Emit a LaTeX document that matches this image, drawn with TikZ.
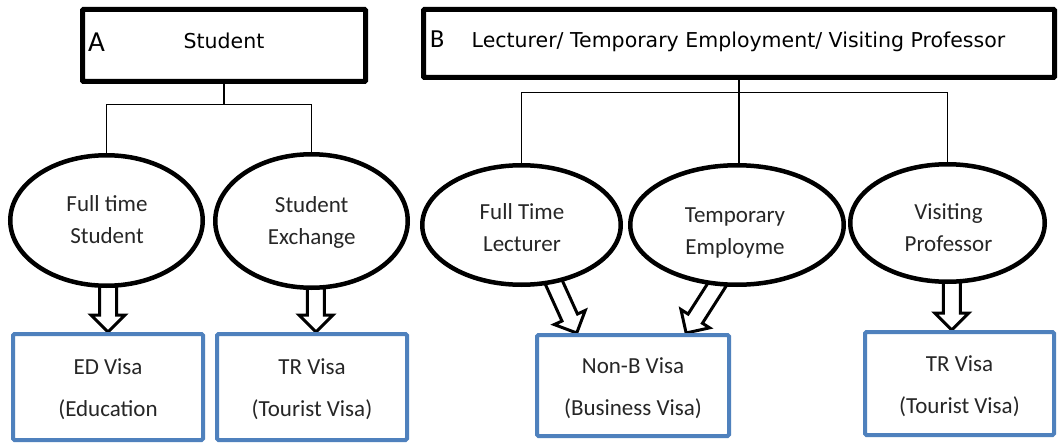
\documentclass[tikz,border=0pt]{standalone}
\usepackage{fontspec}
\setmainfont{Carlito}
\newfontfamily\headfont{DejaVu Sans}
\usetikzlibrary{calc,shapes.geometric}
\pgfdeclarelayer{back}
\pgfdeclarelayer{arrowlayer}
\pgfsetlayers{back,arrowlayer,main}
\definecolor{visablue}{RGB}{79,129,189}
\definecolor{txtgray}{RGB}{38,38,38}
\newcommand{\hollowarrow}[3]{%
  \coordinate (#1b) at ($(#3)!17pt!(#2)$);
  \draw[hollowarr] ($(#2)!8.5pt!90:(#3)$) -- ($(#1b)!8.5pt!90:(#3)$) -- ($(#1b)!17pt!90:(#3)$) -- (#3)
    -- ($(#1b)!17pt!-90:(#3)$) -- ($(#1b)!8.5pt!-90:(#3)$) -- ($(#2)!8.5pt!-90:(#3)$) -- cycle;
}
\newcommand{\vstrut}{\rule{0pt}{21pt}}
\tikzset{
  headbox/.style={draw, line width=5pt, rounded corners=1pt, inner sep=0pt},
  oval/.style={ellipse, draw, fill=white, line width=4.5pt, inner sep=0pt},
  visabox/.style={draw=visablue, line width=4pt, rounded corners=1.5pt, align=center, text=txtgray, font=\fontsize{23}{42}\selectfont, inner sep=0pt},
  ovaltext/.style={align=center, text=txtgray, font=\fontsize{23}{32}\selectfont, inner sep=0pt},
  headtext/.style={font=\headfont\fontsize{20.5}{24}\selectfont, anchor=base, inner sep=0pt},
  letter/.style={font=\fontsize{29}{30}\selectfont, anchor=base west, inner sep=0pt},
  conn/.style={line width=1.5pt},
  hollowarr/.style={draw, fill=white, line width=3pt, line join=miter}
}
\begin{document}
\begin{tikzpicture}[x=1pt,y=-1pt]
\useasboundingbox (0,0) rectangle (1058,444);
\begin{pgfonlayer}{back}
\fill[white] (0,0) rectangle (1058,444);
\end{pgfonlayer}

% header boxes
\node[headbox, minimum width=283pt, minimum height=72pt] (boxA) at (224,45.5) {};
\node[headbox, minimum width=631pt, minimum height=68pt] (boxB) at (739,43.5) {};
\node[letter] (labA) at (88,52) {A};
\node[headtext] (titA) at (224,49) {Student};
\node[letter, font=\fontsize{26}{28}\selectfont] (labB) at (430,48) {B};
\node[headtext] (titB) at (738.5,47.5) {Lecturer/ Temporary Employment/ Visiting Professor};

% ellipses
\node[oval, minimum width=192.5pt, minimum height=130.5pt] (e1) at (106.5,220.5) {};
\node[oval, minimum width=192.5pt, minimum height=133.5pt] (e2) at (311.5,221) {};
\node[oval, minimum width=198.5pt, minimum height=119.5pt] (e3) at (521.5,225) {};
\node[oval, minimum width=213.5pt, minimum height=119.5pt] (e4) at (737,225) {};
\node[oval, minimum width=194.5pt, minimum height=117.5pt] (e5) at (947.5,223) {};
\node[ovaltext] (t1) at (107,220) {Full time\\Student};
\node[ovaltext] (t2) at (311.7,222.7) {Student\\Exchange};
\node[ovaltext] (t3) at (522,227.7) {Full Time\\Lecturer};
\node[ovaltext] (t4) at (735,233) {Temporary\\Employme};
\node[ovaltext] (t5) at (948.5,228) {Visiting\\Professor};

% visa boxes
\node[visabox, minimum width=190pt, minimum height=106pt] (ed) at (108,387) {\vstrut ED Visa\\(Education};
\node[visabox, minimum width=190pt, minimum height=106pt] (tr1) at (312,387) {\vstrut TR Visa\\(Tourist Visa)};
\node[visabox, minimum width=192pt, minimum height=101pt] (nb) at (633,385.5) {\vstrut Non-B Visa\\(Business Visa)};
\node[visabox, minimum width=189pt, minimum height=103pt] (tr2) at (959.5,383.5) {\vstrut TR Visa\\(Tourist Visa)};

% connectors
\coordinate (ja) at ($(boxA.south)+(0,20.5)$);
\draw[conn] (boxA.south) -- (ja);
\draw[conn] (e1.north) |- (ja) -| (e2.north);
\coordinate (jb) at ($(boxB.south)+(0,12.5)$);
\draw[conn] (boxB.south) -- (boxB.south |- e4.north);
\draw[conn] (e3.north) |- (jb) -| (e5.north);

% hollow arrows
\begin{pgfonlayer}{arrowlayer}
\coordinate (a1e) at (ed.north);
\coordinate (a1s) at ($(a1e)+(0,-60)$);
\hollowarrow{a1}{a1s}{a1e}
\coordinate (a2e) at ($(tr1.north west)!0.52!(tr1.north east)$);
\coordinate (a2s) at ($(a2e)+(0,-60)$);
\hollowarrow{a2}{a2s}{a2e}
\coordinate (a3e) at ($(nb.north west)!0.213!(nb.north east)$);
\coordinate (a3s) at ($(a3e)+(-34,-75)$);
\hollowarrow{a3}{a3s}{a3e}
\coordinate (a4e) at ($(nb.north west)!0.771!(nb.north east)$);
\coordinate (a4s) at ($(a4e)+(46,-72)$);
\hollowarrow{a4}{a4s}{a4e}
\coordinate (a5e) at ($(tr2.north west)!0.46!(tr2.north east)$);
\coordinate (a5s) at ($(a5e)+(0,-60)$);
\hollowarrow{a5}{a5s}{a5e}
\end{pgfonlayer}
\end{tikzpicture}
\end{document}
